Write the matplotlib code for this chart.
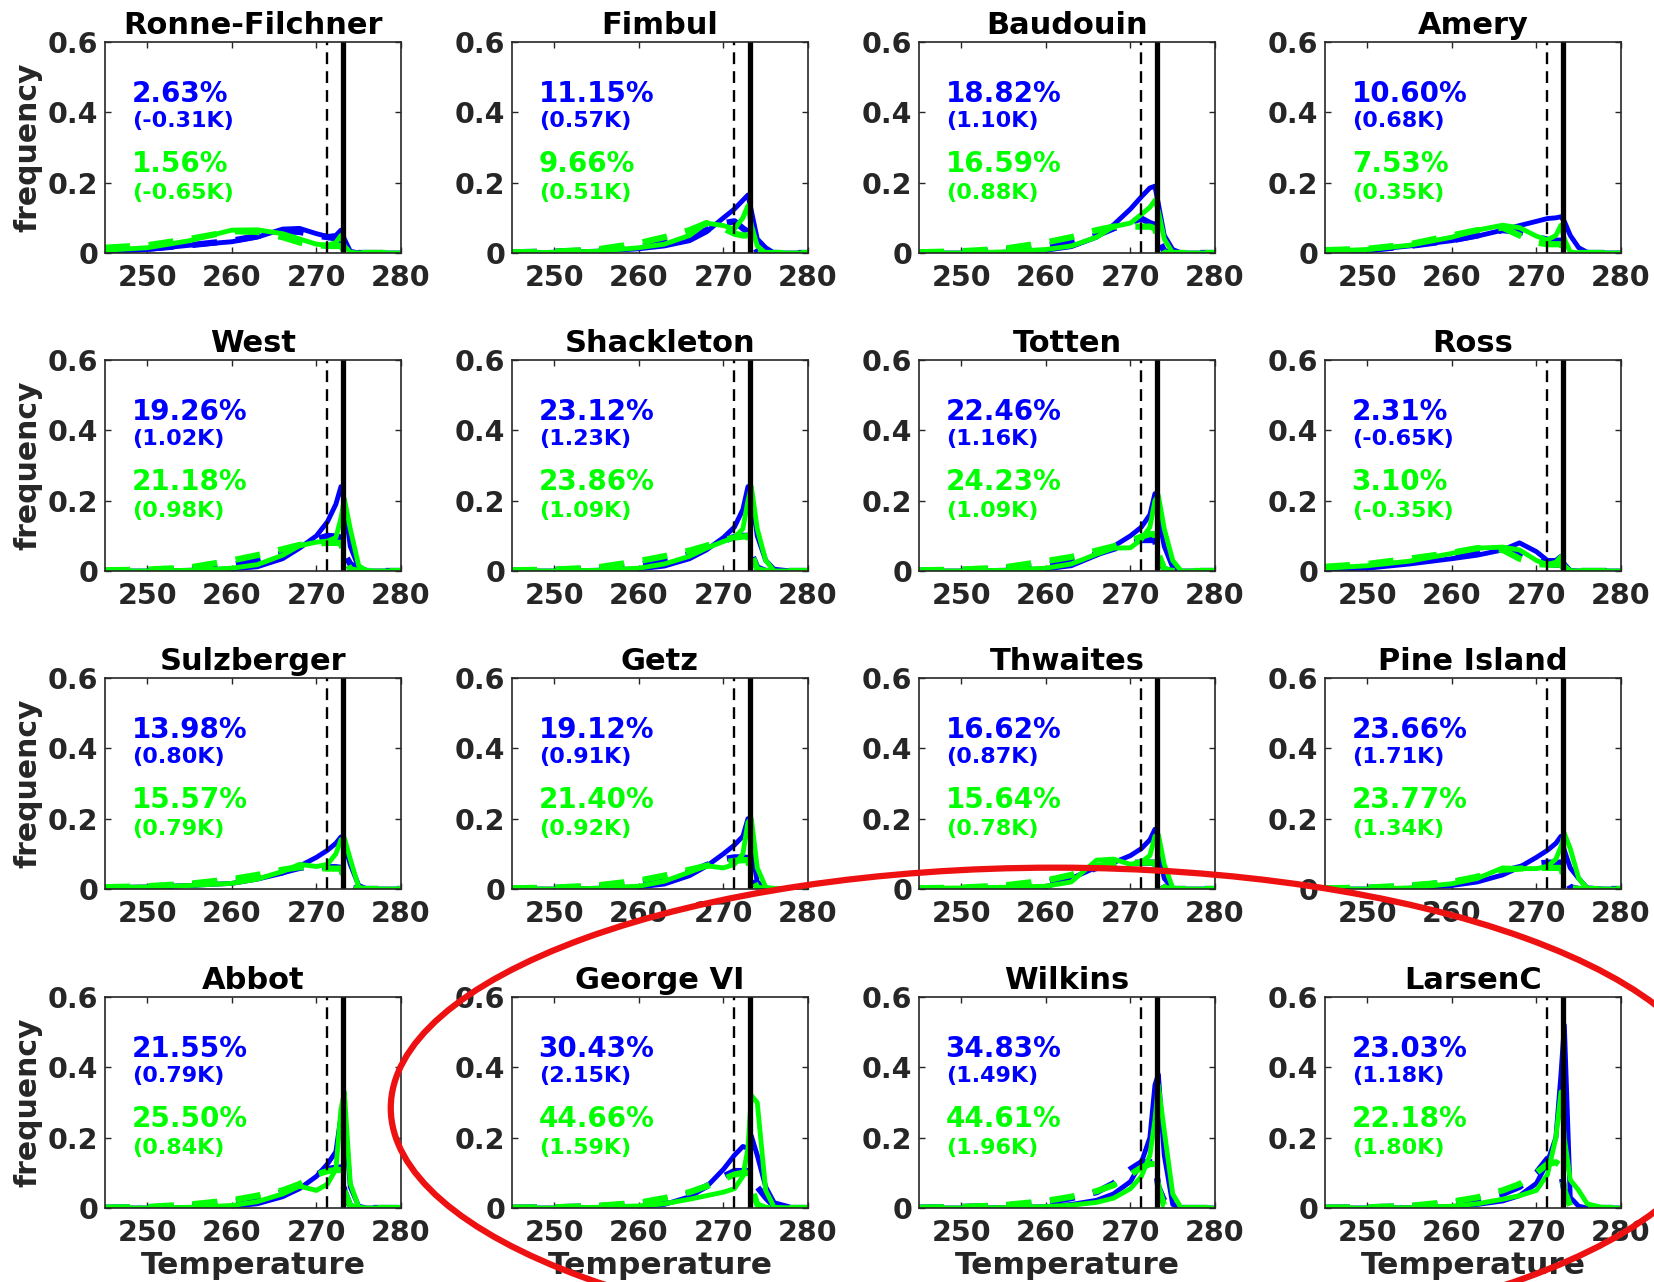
import matplotlib
matplotlib.use('Agg')
import matplotlib.pyplot as plt
import matplotlib.transforms as mtransforms
from matplotlib.patches import Ellipse

plt.rcParams['font.family'] = 'DejaVu Sans'
plt.rcParams['font.weight'] = 'bold'

names = ['Ronne-Filchner', 'Fimbul', 'Baudouin', 'Amery',
         'West', 'Shackleton', 'Totten', 'Ross',
         'Sulzberger', 'Getz', 'Thwaites', 'Pine Island',
         'Abbot', 'George VI', 'Wilkins', 'LarsenC']

blue_pct = [2.63, 11.15, 18.82, 10.60, 19.26, 23.12, 22.46, 2.31,
            13.98, 19.12, 16.62, 23.66, 21.55, 30.43, 34.83, 23.03]
blue_k = [-0.31, 0.57, 1.10, 0.68, 1.02, 1.23, 1.16, -0.65,
          0.80, 0.91, 0.87, 1.71, 0.79, 2.15, 1.49, 1.18]
green_pct = [1.56, 9.66, 16.59, 7.53, 21.18, 23.86, 24.23, 3.10,
             15.57, 21.40, 15.64, 23.77, 25.50, 44.66, 44.61, 22.18]
green_k = [-0.65, 0.51, 0.88, 0.35, 0.98, 1.09, 1.09, -0.35,
           0.79, 0.92, 0.78, 1.34, 0.84, 1.59, 1.96, 1.80]

# temperature grid (K) used for all the curves
temp = [245, 250, 255, 260, 263, 266, 268, 270, 271.3, 272.3, 272.9, 273.3, 274.0, 275, 276, 278, 280]

t_freeze = 271.3
t_melt = 273.15

# blue solid, blue dashed, green solid, green dashed for each shelf
blue_solid = [
    [0.003, 0.01, 0.022, 0.032, 0.045, 0.068, 0.07, 0.055, 0.047, 0.05, 0.065, 0.04, 0.005, 0, 0, 0, 0],
    [0, 0.002, 0.005, 0.012, 0.02, 0.035, 0.06, 0.1, 0.125, 0.15, 0.165, 0.12, 0.04, 0.015, 0, 0, 0],
    [0, 0, 0.002, 0.008, 0.018, 0.045, 0.08, 0.125, 0.16, 0.185, 0.19, 0.14, 0.05, 0.01, 0, 0, 0],
    [0.002, 0.008, 0.02, 0.035, 0.048, 0.065, 0.078, 0.09, 0.098, 0.1, 0.103, 0.09, 0.05, 0.015, 0.002, 0, 0],
    [0, 0, 0.002, 0.006, 0.012, 0.035, 0.065, 0.1, 0.14, 0.19, 0.24, 0.2, 0.07, 0.01, 0, 0, 0],
    [0, 0, 0.002, 0.006, 0.014, 0.035, 0.06, 0.095, 0.125, 0.175, 0.24, 0.22, 0.1, 0.03, 0.005, 0, 0],
    [0, 0, 0.002, 0.006, 0.015, 0.045, 0.07, 0.1, 0.125, 0.16, 0.22, 0.16, 0.07, 0.01, 0, 0, 0],
    [0.003, 0.008, 0.02, 0.035, 0.045, 0.06, 0.08, 0.055, 0.03, 0.03, 0.042, 0.02, 0.002, 0, 0, 0, 0],
    [0.004, 0.006, 0.01, 0.016, 0.028, 0.045, 0.065, 0.09, 0.11, 0.13, 0.148, 0.13, 0.07, 0.01, 0, 0, 0],
    [0, 0, 0.002, 0.006, 0.014, 0.038, 0.065, 0.1, 0.125, 0.15, 0.2, 0.12, 0.02, 0.002, 0, 0, 0],
    [0, 0, 0.001, 0.006, 0.03, 0.062, 0.075, 0.095, 0.115, 0.14, 0.17, 0.11, 0.03, 0.002, 0, 0, 0],
    [0, 0, 0.002, 0.01, 0.02, 0.04, 0.062, 0.09, 0.11, 0.13, 0.15, 0.11, 0.06, 0.03, 0.003, 0, 0],
    [0, 0, 0.001, 0.005, 0.012, 0.032, 0.055, 0.09, 0.125, 0.16, 0.26, 0.28, 0.06, 0.005, 0, 0, 0],
    [0, 0, 0.001, 0.004, 0.01, 0.032, 0.06, 0.11, 0.15, 0.175, 0.17, 0.205, 0.15, 0.06, 0.015, 0.002, 0],
    [0, 0, 0.001, 0.004, 0.01, 0.022, 0.04, 0.075, 0.13, 0.2, 0.35, 0.38, 0.15, 0.01, 0, 0, 0],
    [0, 0, 0.001, 0.004, 0.01, 0.02, 0.035, 0.07, 0.13, 0.2, 0.38, 0.52, 0.03, 0.005, 0, 0, 0],
]
blue_dash = [
    [0.005, 0.012, 0.022, 0.035, 0.048, 0.062, 0.06, 0.05, 0.045, 0.042, 0.035, 0.01, 0, 0, 0, 0, 0],
    [0.002, 0.004, 0.008, 0.018, 0.028, 0.045, 0.065, 0.085, 0.09, 0.07, 0.06, 0.03, 0.005, 0, 0, 0, 0],
    [0.001, 0.003, 0.008, 0.02, 0.032, 0.05, 0.07, 0.088, 0.098, 0.085, 0.08, 0.04, 0.005, 0, 0, 0, 0],
    [0.003, 0.008, 0.02, 0.036, 0.05, 0.065, 0.06, 0.045, 0.038, 0.035, 0.035, 0.02, 0.003, 0, 0, 0, 0],
    [0.001, 0.002, 0.006, 0.018, 0.03, 0.05, 0.07, 0.09, 0.1, 0.098, 0.095, 0.05, 0.02, 0.005, 0, 0, 0],
    [0.001, 0.003, 0.007, 0.018, 0.03, 0.048, 0.066, 0.085, 0.097, 0.1, 0.1, 0.05, 0.01, 0, 0, 0, 0],
    [0.001, 0.003, 0.007, 0.018, 0.03, 0.048, 0.063, 0.078, 0.088, 0.088, 0.088, 0.04, 0.005, 0, 0, 0, 0],
    [0.005, 0.012, 0.025, 0.042, 0.055, 0.062, 0.05, 0.03, 0.02, 0.018, 0.018, 0.008, 0, 0, 0, 0, 0],
    [0.004, 0.006, 0.012, 0.022, 0.032, 0.048, 0.06, 0.065, 0.062, 0.062, 0.06, 0.03, 0.005, 0, 0, 0, 0],
    [0.001, 0.003, 0.007, 0.018, 0.03, 0.048, 0.068, 0.085, 0.09, 0.09, 0.088, 0.04, 0.005, 0, 0, 0, 0],
    [0.001, 0.002, 0.006, 0.018, 0.035, 0.06, 0.07, 0.074, 0.075, 0.075, 0.075, 0.035, 0.004, 0, 0, 0, 0],
    [0.001, 0.003, 0.008, 0.02, 0.032, 0.05, 0.062, 0.072, 0.075, 0.075, 0.075, 0.035, 0.005, 0, 0, 0, 0],
    [0.001, 0.002, 0.006, 0.016, 0.028, 0.045, 0.065, 0.095, 0.11, 0.115, 0.115, 0.05, 0.005, 0, 0, 0, 0],
    [0.001, 0.002, 0.005, 0.012, 0.022, 0.04, 0.062, 0.09, 0.105, 0.105, 0.105, 0.1, 0.06, 0.03, 0.005, 0, 0],
    [0.001, 0.003, 0.007, 0.016, 0.028, 0.045, 0.07, 0.11, 0.13, 0.13, 0.13, 0.06, 0.02, 0.005, 0, 0, 0],
    [0.001, 0.002, 0.005, 0.014, 0.025, 0.04, 0.06, 0.1, 0.14, 0.12, 0.1, 0.05, 0.015, 0.003, 0, 0, 0],
]
green_solid = [
    [0.008, 0.015, 0.035, 0.065, 0.066, 0.055, 0.04, 0.025, 0.022, 0.03, 0.05, 0.02, 0.002, 0, 0, 0, 0],
    [0, 0.002, 0.005, 0.015, 0.025, 0.05, 0.085, 0.078, 0.068, 0.1, 0.135, 0.08, 0.02, 0, 0, 0, 0],
    [0, 0, 0.003, 0.01, 0.02, 0.045, 0.075, 0.085, 0.11, 0.13, 0.15, 0.12, 0.04, 0, 0, 0, 0],
    [0.005, 0.01, 0.022, 0.045, 0.065, 0.079, 0.072, 0.048, 0.037, 0.05, 0.079, 0.04, 0.003, 0, 0, 0, 0],
    [0, 0, 0.002, 0.008, 0.018, 0.045, 0.072, 0.082, 0.085, 0.095, 0.15, 0.205, 0.12, 0.015, 0, 0, 0],
    [0, 0, 0.002, 0.008, 0.02, 0.042, 0.065, 0.084, 0.095, 0.12, 0.2, 0.24, 0.12, 0.03, 0, 0, 0],
    [0, 0, 0.002, 0.008, 0.02, 0.048, 0.065, 0.066, 0.09, 0.125, 0.2, 0.215, 0.12, 0.03, 0, 0, 0],
    [0.008, 0.015, 0.028, 0.05, 0.065, 0.068, 0.06, 0.03, 0.018, 0.025, 0.041, 0.015, 0.001, 0, 0, 0, 0],
    [0.004, 0.006, 0.01, 0.016, 0.028, 0.05, 0.07, 0.064, 0.07, 0.1, 0.14, 0.145, 0.085, 0.005, 0, 0, 0],
    [0, 0, 0.002, 0.008, 0.022, 0.048, 0.066, 0.06, 0.07, 0.1, 0.19, 0.2, 0.06, 0.005, 0, 0, 0],
    [0.002, 0.003, 0.005, 0.008, 0.02, 0.082, 0.085, 0.07, 0.077, 0.095, 0.15, 0.155, 0.07, 0.003, 0, 0, 0],
    [0, 0, 0.003, 0.015, 0.03, 0.06, 0.058, 0.058, 0.064, 0.085, 0.12, 0.158, 0.115, 0.03, 0.002, 0, 0],
    [0, 0, 0.002, 0.007, 0.018, 0.04, 0.062, 0.05, 0.068, 0.11, 0.28, 0.33, 0.07, 0.002, 0, 0, 0],
    [0, 0, 0.002, 0.006, 0.012, 0.025, 0.035, 0.045, 0.055, 0.09, 0.17, 0.32, 0.3, 0.05, 0.002, 0, 0],
    [0, 0, 0.001, 0.004, 0.008, 0.016, 0.028, 0.055, 0.09, 0.15, 0.25, 0.35, 0.22, 0.04, 0, 0, 0],
    [0, 0, 0.001, 0.005, 0.012, 0.025, 0.035, 0.05, 0.095, 0.2, 0.33, 0.2, 0.08, 0.05, 0.012, 0, 0],
]
green_dash = [
    [0.015, 0.022, 0.04, 0.062, 0.06, 0.045, 0.03, 0.022, 0.02, 0.02, 0.02, 0.005, 0, 0, 0, 0, 0],
    [0.002, 0.004, 0.01, 0.028, 0.045, 0.065, 0.085, 0.07, 0.055, 0.05, 0.05, 0.02, 0, 0, 0, 0, 0],
    [0.002, 0.005, 0.012, 0.03, 0.045, 0.065, 0.075, 0.075, 0.075, 0.075, 0.07, 0.03, 0, 0, 0, 0, 0],
    [0.008, 0.012, 0.025, 0.05, 0.065, 0.072, 0.05, 0.03, 0.025, 0.025, 0.025, 0.01, 0, 0, 0, 0, 0],
    [0.002, 0.004, 0.01, 0.03, 0.045, 0.062, 0.074, 0.078, 0.08, 0.08, 0.08, 0.04, 0.005, 0, 0, 0, 0],
    [0.002, 0.004, 0.01, 0.028, 0.042, 0.058, 0.072, 0.088, 0.095, 0.098, 0.1, 0.05, 0.005, 0, 0, 0, 0],
    [0.002, 0.004, 0.01, 0.028, 0.04, 0.058, 0.07, 0.085, 0.098, 0.105, 0.105, 0.05, 0.005, 0, 0, 0, 0],
    [0.012, 0.02, 0.035, 0.052, 0.065, 0.06, 0.035, 0.02, 0.018, 0.018, 0.018, 0.005, 0, 0, 0, 0, 0],
    [0.005, 0.008, 0.015, 0.028, 0.04, 0.055, 0.062, 0.06, 0.058, 0.058, 0.058, 0.03, 0.003, 0, 0, 0, 0],
    [0.002, 0.004, 0.01, 0.024, 0.038, 0.055, 0.066, 0.075, 0.08, 0.082, 0.082, 0.04, 0.003, 0, 0, 0, 0],
    [0.002, 0.004, 0.01, 0.024, 0.04, 0.065, 0.072, 0.074, 0.075, 0.075, 0.075, 0.035, 0.003, 0, 0, 0, 0],
    [0.002, 0.004, 0.01, 0.02, 0.035, 0.055, 0.058, 0.06, 0.06, 0.06, 0.06, 0.03, 0.003, 0, 0, 0, 0],
    [0.001, 0.003, 0.01, 0.022, 0.035, 0.05, 0.068, 0.095, 0.105, 0.108, 0.108, 0.05, 0.005, 0, 0, 0, 0],
    [0.001, 0.002, 0.006, 0.015, 0.028, 0.045, 0.062, 0.082, 0.095, 0.1, 0.1, 0.06, 0.01, 0, 0, 0, 0],
    [0.001, 0.003, 0.008, 0.02, 0.032, 0.048, 0.065, 0.095, 0.115, 0.125, 0.125, 0.06, 0.006, 0, 0, 0, 0],
    [0.001, 0.002, 0.006, 0.018, 0.03, 0.05, 0.068, 0.1, 0.125, 0.13, 0.12, 0.05, 0.005, 0, 0, 0, 0],
]

W, H = 1654, 1282
fig = plt.figure(figsize=(W / 100, H / 100), dpi=100)

col_left = [105, 512, 919, 1325]
row_top = [42, 360, 678, 997]
aw, ah = 296, 211
txtc = '#262626'
blue = '#0000ff'
green = '#00ff00'

for i, name in enumerate(names):
    r, c = divmod(i, 4)
    ax = fig.add_axes([col_left[c] / W, 1 - (row_top[r] + ah) / H, aw / W, ah / H])

    ax.plot(temp, blue_solid[i], color=blue, lw=3.5)
    ax.plot(temp, blue_dash[i], color=blue, lw=4.5, dashes=(4, 3))
    ax.plot(temp, green_solid[i], color=green, lw=3.5)
    ax.plot(temp, green_dash[i], color=green, lw=4.5, dashes=(4, 3))
    ax.axvline(t_freeze, color='k', lw=1.7, dashes=(5, 3))
    ax.axvline(t_melt, color='k', lw=3.8)

    ax.set_xlim(245, 280)
    ax.set_ylim(0, 0.6)
    ax.set_xticks([250, 260, 270, 280])
    ax.set_yticks([0, 0.2, 0.4, 0.6])
    ax.set_yticklabels(['0', '0.2', '0.4', '0.6'])
    ax.tick_params(direction='in', top=True, right=True, length=4, width=1,
                   labelsize=20.5, colors=txtc)
    ax.tick_params(axis='x', pad=8)
    ax.tick_params(axis='y', pad=5)
    for lab in ax.get_xticklabels() + ax.get_yticklabels():
        lab.set_fontweight('bold')
    for s in ax.spines.values():
        s.set_color(txtc)
        s.set_linewidth(1.2)

    ax.set_title(name, fontsize=22, fontweight='bold', pad=6)

    tr = mtransforms.blended_transform_factory(ax.transAxes, ax.transData)
    ax.text(0.09, 0.453, '%.2f%%' % blue_pct[i], transform=tr, color=blue,
            fontsize=20, fontweight='bold', va='center', ha='left')
    ax.text(0.09, 0.376, '(%.2fK)' % blue_k[i], transform=tr, color=blue,
            fontsize=16, fontweight='bold', va='center', ha='left')
    ax.text(0.09, 0.253, '%.2f%%' % green_pct[i], transform=tr, color=green,
            fontsize=20, fontweight='bold', va='center', ha='left')
    ax.text(0.09, 0.171, '(%.2fK)' % green_k[i], transform=tr, color=green,
            fontsize=16, fontweight='bold', va='center', ha='left')

    if c == 0:
        ax.set_ylabel('frequency', fontsize=21.5, fontweight='bold', color=txtc)
        ax.yaxis.set_label_coords(-0.21, 0.5)
    if r == 3:
        ax.set_xlabel('Temperature', fontsize=22.5, fontweight='bold', color=txtc)
        ax.xaxis.set_label_coords(0.5, -0.205)

fig.add_artist(Ellipse((0.638, 0.1357), 0.8035, 0.375, transform=fig.transFigure,
                       fill=False, ec='#ee1111', lw=4.5, zorder=10))

plt.savefig('out.png', dpi=100)
